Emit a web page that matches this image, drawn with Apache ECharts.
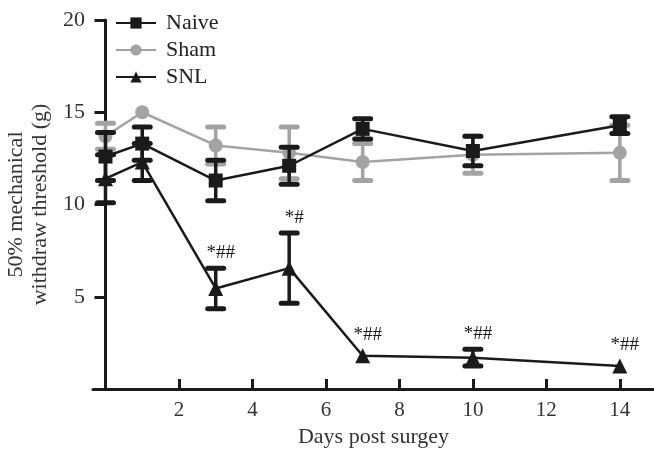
<!DOCTYPE html>
<html><head><meta charset="utf-8">
<script src="https://cdn.jsdelivr.net/npm/echarts@6/dist/echarts.min.js"></script>
<style>html,body{margin:0;padding:0;background:#fff}#c{width:654px;height:453px}</style>
</head><body><div id="c"></div>
<script>
const days = [0, 1, 3, 5, 7, 10, 14];
const naiveMean = [12.6, 13.3, 11.3, 12.1, 14.1, 12.9, 14.3];
const naiveErr  = [1.3, 0.9, 1.1, 1.0, 0.55, 0.8, 0.45];
const shamMean  = [13.7, 15.0, 13.2, 12.8, 12.3, 12.7, 12.8];
const shamErr   = [0.7, 0, 1.0, 1.4, 1.0, 1.0, 1.5];
const snlMean   = [11.4, 12.3, 5.45, 6.55, 1.8, 1.7, 1.25];
const snlErr    = [1.3, 1.0, 1.1, 1.9, 0, 0.45, 0];
const snlNotes  = ['', '', '*##', '*#', '*##', '*##', '*##'];
const xTicks = [2, 4, 6, 8, 10, 12, 14];
const yTicks = [5, 10, 15, 20];

const BLACK = '#1a1a1a', GREY = '#a3a3a3';
const FONT = '"Liberation Serif", "DejaVu Serif", serif';

function errSeries(name, color, means, errs, z, notes) {
  return {
    type: 'custom', name: name, z: z, silent: true,
    data: days.map((d, i) => [d, means[i] - errs[i], means[i] + errs[i], means[i], i]),
    encode: { x: 0, y: [1, 2] },
    renderItem(params, api) {
      const x = api.value(0);
      const idx = api.value(4);
      const lo = api.coord([x, api.value(1)]);
      const hi = api.coord([x, api.value(2)]);
      const mid = api.coord([x, api.value(3)]);
      const hw = 8;
      const children = [];
      if (errs[idx] > 0) {
        children.push(
          { type: 'line', shape: { x1: lo[0], y1: lo[1], x2: hi[0], y2: hi[1] }, style: { stroke: color, lineWidth: 3.5 } },
          { type: 'line', shape: { x1: lo[0] - hw, y1: lo[1], x2: lo[0] + hw, y2: lo[1] }, style: { stroke: color, lineWidth: 5, lineCap: 'round' } },
          { type: 'line', shape: { x1: hi[0] - hw, y1: hi[1], x2: hi[0] + hw, y2: hi[1] }, style: { stroke: color, lineWidth: 5, lineCap: 'round' } }
        );
      }
      if (notes) {
        const t = notes[idx];
        if (t) {
          const top = Math.min(hi[1] - 2, mid[1] - 7);
          children.push({ type: 'text', style: { text: t, x: hi[0] + 5, y: top - 4, align: 'center', verticalAlign: 'bottom', fill: BLACK, font: '19px ' + FONT } });
        }
      }
      return { type: 'group', children };
    }
  };
}

function lineSeries(name, color, means, symbol, size, z) {
  return {
    type: 'line', name: name, z: z,
    data: days.map((d, i) => [d, means[i]]),
    symbol: symbol, symbolSize: size, showAllSymbol: true,
    lineStyle: { color: color, width: 2.5 },
    itemStyle: { color: color },
    emphasis: { disabled: true }
  };
}

const chart = echarts.init(document.getElementById('c'), null, { renderer: 'canvas' });
chart.setOption({
  animation: false,
  textStyle: { fontFamily: FONT },
  grid: { left: 93, right: 0, top: 20, bottom: 64, outerBoundsMode: 'none', containLabel: false },
  legend: {
    data: ['Naive', 'Sham', 'SNL'], orient: 'vertical', left: 115, top: 12, padding: 0,
    itemWidth: 40, itemHeight: 14, itemGap: 5,
    textStyle: { fontFamily: FONT, fontSize: 22, color: '#222', lineHeight: 22, padding: [0, 0, 0, 5] }
  },
  xAxis: {
    type: 'value', min: -0.34, max: 14.93,
    name: 'Days post surgey', nameLocation: 'middle', nameGap: 30,
    nameTextStyle: { fontFamily: FONT, fontSize: 22, color: '#333' },
    axisLine: { onZero: false, lineStyle: { color: BLACK, width: 3 } },
    axisTick: { inside: true, length: 10, customValues: xTicks, lineStyle: { color: BLACK, width: 3 } },
    axisLabel: { customValues: xTicks, margin: 11, fontFamily: FONT, fontSize: 21, color: '#333' },
    splitLine: { show: false }
  },
  yAxis: {
    type: 'value', min: 0, max: 20,
    name: '50% mechanical\nwithdraw threshold (g)', nameLocation: 'middle', nameGap: 40, nameRotate: 90,
    nameTextStyle: { fontFamily: FONT, fontSize: 22, color: '#333', lineHeight: 24 },
    axisLine: { onZero: true, lineStyle: { color: BLACK, width: 3 } },
    axisTick: { length: 11, customValues: yTicks, lineStyle: { color: BLACK, width: 3 } },
    axisLabel: { customValues: yTicks, margin: 8, fontFamily: FONT, fontSize: 22, color: '#333' },
    splitLine: { show: false }
  },
  series: [
    errSeries('ShamErr', GREY, shamMean, shamErr, 1),
    lineSeries('Sham', GREY, shamMean, 'circle', 14, 2),
    errSeries('NaiveErr', BLACK, naiveMean, naiveErr, 3),
    lineSeries('Naive', BLACK, naiveMean, 'rect', 14, 4),
    errSeries('SNLErr', BLACK, snlMean, snlErr, 5, snlNotes),
    lineSeries('SNL', BLACK, snlMean, 'triangle', 15, 6)
  ]
});
</script></body></html>
